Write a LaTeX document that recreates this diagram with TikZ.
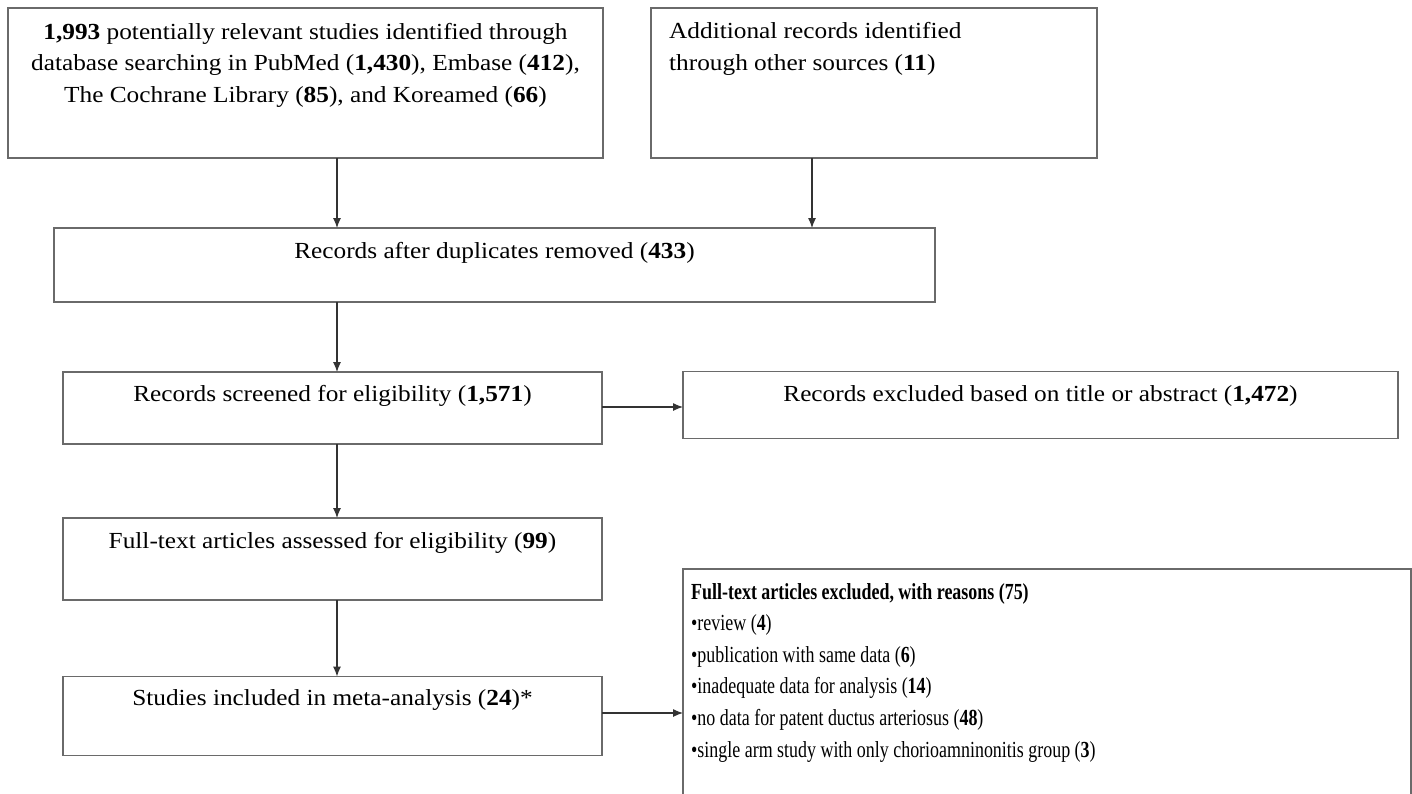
\documentclass[tikz,border=0pt]{standalone}
\usepackage{fontspec}
\setmainfont{Liberation Serif}[FakeStretch=1.1]
\newfontfamily\narrowfont{Liberation Serif}[FakeStretch=0.78]
\usetikzlibrary{arrows.meta}
\definecolor{boxgray}{HTML}{6A6A6A}
\definecolor{arrgray}{HTML}{333333}
\begin{document}
\begin{tikzpicture}[x=1pt,y=-1pt,
  box/.style={draw=boxgray, line width=1.9pt, inner sep=0pt, outer sep=0pt},
  txt/.style={font=\fontsize{23}{31.5}\selectfont, inner sep=0pt, text=black},
  ntxt/.style={font=\narrowfont\fontsize{23}{31.6}\selectfont, inner sep=0pt, text=black},
  arr/.style={draw=arrgray, line width=1.1pt, -{Latex[length=10pt,width=8pt]}}]
\useasboundingbox (0,0) rectangle (1412,793);
\clip (0,0) rectangle (1412,793);
\fill[white] (0,0) rectangle (1412,793);
% boxes
\node[box, minimum width=595, minimum height=150] (b1) at (305.5,83) {};
\node[box, minimum width=446, minimum height=150] (b2) at (874,83) {};
\node[box, minimum width=881, minimum height=74] (b3) at (494.5,265) {};
\node[box, minimum width=539, minimum height=72] (b4) at (332.5,408) {};
\node[box, minimum width=715, minimum height=67] (b5) at (1040.5,405) {};
\node[box, minimum width=539, minimum height=82] (b6) at (332.5,559) {};
\node[box, minimum width=539, minimum height=79] (b7) at (332.5,716) {};
\node[box, minimum width=728, minimum height=300] (b8) at (1047,719) {};
% texts
\node[txt, align=center] (t1) at (305.5,65) {\textbf{1,993} potentially relevant studies identified through\\database searching in PubMed (\textbf{1,430}), Embase (\textbf{412}),\\The Cochrane Library (\textbf{85}), and Koreamed (\textbf{66})};
\node[txt, align=left, anchor=west] (t2) at (669,49) {Additional records identified\\through other sources (\textbf{11})};
\node[txt] (t3) at (494.5,253) {Records after duplicates removed (\textbf{433})};
\node[txt] (t4) at (332.5,396) {Records screened for eligibility (\textbf{1,571})};
\node[txt] (t5) at (1040.5,396) {Records excluded based on title or abstract (\textbf{1,472})};
\node[txt] (t6) at (332.5,543) {Full-text articles assessed for eligibility (\textbf{99})};
\node[txt] (t7) at (332.5,700) {Studies included in meta-analysis (\textbf{24})*};
\node[ntxt, align=left, anchor=west] (t8) at (691,672.5) {\textbf{Full-text articles excluded, with reasons (75)}\\%
•review (\textbf{4})\\%
•publication with same data (\textbf{6})\\%
•inadequate data for analysis (\textbf{14})\\%
•no data for patent ductus arteriosus (\textbf{48})\\%
•single arm study with only chorioamninonitis group (\textbf{3})};
% connectors
\coordinate (cL) at (337,0);
\coordinate (cR) at (812,0);
\coordinate (r1) at (0,407);
\coordinate (r2) at (0,713);
\draw[arr] (b1.south -| cL) -- (b3.north -| cL);
\draw[arr] (b2.south -| cR) -- (b3.north -| cR);
\draw[arr] (b3.south -| cL) -- (b4.north -| cL);
\draw[arr] (b4.east |- r1) -- (b5.west |- r1);
\draw[arr] (b4.south -| cL) -- (b6.north -| cL);
\draw[arr] (b6.south -| cL) -- (b7.north -| cL);
\draw[arr] (b7.east |- r2) -- (b8.west |- r2);
\end{tikzpicture}
\end{document}
